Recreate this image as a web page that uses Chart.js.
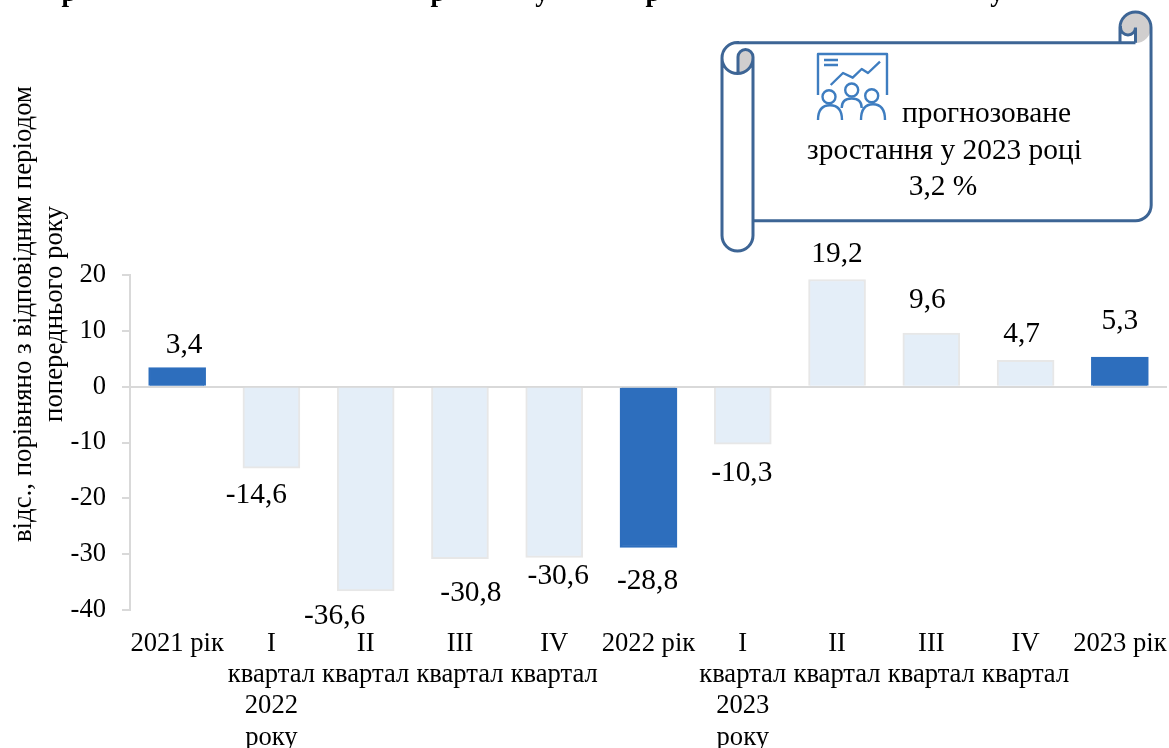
<!DOCTYPE html>
<html>
<head>
<meta charset="utf-8">
<script src="https://cdn.jsdelivr.net/npm/chart.js@4"></script>
<style>
    html, body { margin: 0; padding: 0; background: #fff; }
    canvas { display: block; }
</style>
</head>
<body>
<canvas id="growthChart" width="1169" height="748"></canvas>
<script>
const categories = [
    "2021 рік",
    ["I", "квартал", "2022", "року"],
    ["II", "квартал"],
    ["III", "квартал"],
    ["IV", "квартал"],
    "2022 рік",
    ["I", "квартал", "2023", "року"],
    ["II", "квартал"],
    ["III", "квартал"],
    ["IV", "квартал"],
    "2023 рік"
];
const values = [3.4, -14.6, -36.6, -30.8, -30.6, -28.8, -10.3, 19.2, 9.6, 4.7, 5.3];
const isYear = [true, false, false, false, false, true, false, false, false, false, true];
const labelShiftX = [7, -15, -31, 11, 4, -1, -1, 0, -4, -4, 0];
const labelShiftY = [-22, 27, 25, 35, 19, 34, 29, -25, -33, -26, -36];
const axisTitle = ["відс., порівняно з відповідним періодом", "попереднього року"];
const calloutLines = ["прогнозоване", "зростання у 2023 році", "3,2 %"];

// the title is cut off by the top edge, only these descenders are legible
const titleLetters = ["р", "р", "у", "р", "у"];
const titleLetterX = [69, 438, 542, 653, 997];

const SERIF = "'Liberation Serif', serif";
const TICK_SIZE = 26.6;
const LABEL_SIZE = 29.4;
const AXIS_GREY = "#D9D9D9";

function commaLabel(value) {
    return String(value).replace(".", ",");
}

const barLabels = {
    id: "barLabels",
    afterDatasetsDraw(chart) {
        const ctx = chart.ctx;
        ctx.save();
        ctx.font = `${LABEL_SIZE}px ${SERIF}`;
        ctx.fillStyle = "#000";
        ctx.textAlign = "center";
        ctx.textBaseline = "middle";
        chart.getDatasetMeta(0).data.forEach((bar, i) => {
            ctx.fillText(commaLabel(values[i]), bar.x + labelShiftX[i], bar.y + labelShiftY[i]);
        });
        ctx.restore();
    }
};

const sideText = {
    id: "sideText",
    afterDraw(chart) {
        const ctx = chart.ctx;
        ctx.save();
        ctx.fillStyle = "#000";
        ctx.textBaseline = "middle";
        ctx.textAlign = "center";
        ctx.font = `26.8px ${SERIF}`;
        axisTitle.forEach((line, i) => {
            ctx.save();
            ctx.translate(24 + i * 31, 314);
            ctx.rotate(-Math.PI / 2);
            ctx.fillText(line, 0, 0);
            ctx.restore();
        });
        ctx.font = `bold 27px ${SERIF}`;
        ctx.textBaseline = "alphabetic";
        titleLetters.forEach((letter, i) => ctx.fillText(letter, titleLetterX[i], 1));
        ctx.restore();
    }
};

function drawScroll(ctx) {
    ctx.lineWidth = 3;
    ctx.strokeStyle = "#3D6595";
    ctx.fillStyle = "#D0CECE";

    // right curl
    ctx.beginPath();
    ctx.arc(1135.5, 27.5, 15.5, Math.PI, Math.PI / 2);
    ctx.lineTo(1135.5, 27.5);
    ctx.arc(1128, 27.5, 7.5, 0, Math.PI);
    ctx.closePath();
    ctx.fill();

    // left curl
    ctx.beginPath();
    ctx.moveTo(738, 73.5);
    ctx.lineTo(738, 57);
    ctx.arc(745.5, 57, 7.5, Math.PI, 0);
    ctx.arc(737.5, 58, 15.5, 0, Math.PI / 2);
    ctx.closePath();
    ctx.fill();

    ctx.beginPath();
    // body outline
    ctx.moveTo(753, 220.7);
    ctx.lineTo(1135.5, 220.7);
    ctx.arc(1135.5, 205, 15.7, Math.PI / 2, 0, true);
    ctx.lineTo(1151, 27.5);
    ctx.arc(1135.5, 27.5, 15.5, 0, Math.PI, true);
    ctx.lineTo(1120, 42.7);
    ctx.moveTo(1120, 27.5);
    ctx.arc(1128, 27.5, 7.5, Math.PI, 0, true);
    ctx.lineTo(1135.5, 42.7);
    ctx.moveTo(1135.5, 42.7);
    ctx.lineTo(737.5, 42.7);
    ctx.arc(737.5, 58, 15.5, -Math.PI / 2, Math.PI, true);
    ctx.lineTo(722, 235.5);
    ctx.arc(737.5, 235.5, 15.5, Math.PI, 0, true);
    ctx.lineTo(753, 57);
    ctx.arc(745.5, 57, 7.5, 0, Math.PI, true);
    ctx.lineTo(738, 73.5);
    ctx.moveTo(722, 58);
    ctx.arc(737.5, 58, 15.5, Math.PI, 0, true);
    ctx.stroke();
}

function drawIcon(ctx) {
    ctx.lineWidth = 2.4;
    ctx.strokeStyle = "#3E7DC0";
    ctx.lineJoin = "round";
    ctx.beginPath();
    ctx.moveTo(818, 95);
    ctx.lineTo(818, 54);
    ctx.lineTo(887, 54);
    ctx.lineTo(887, 95);
    ctx.moveTo(824, 60);
    ctx.lineTo(838, 60);
    ctx.moveTo(824, 65);
    ctx.lineTo(838, 65);
    ctx.moveTo(830.7, 85);
    ctx.lineTo(843, 73);
    ctx.lineTo(852.7, 77.7);
    ctx.lineTo(861.7, 69);
    ctx.lineTo(868, 73);
    ctx.lineTo(880, 61.7);
    ctx.stroke();
    [[829, 96.7, 120, 830], [851.7, 90, 108, 851.7], [871.7, 95.7, 120, 873]].forEach(([hx, hy, foot, bx]) => {
        ctx.beginPath();
        ctx.arc(hx, hy, 6.5, 0, Math.PI * 2);
        ctx.stroke();
        ctx.beginPath();
        const half = foot === 108 ? 10 : 12;
        ctx.moveTo(bx - half, foot);
        ctx.quadraticCurveTo(bx - half, hy + 8.5, bx, hy + 8.5);
        ctx.quadraticCurveTo(bx + half, hy + 8.5, bx + half, foot);
        ctx.stroke();
    });
}

const callout = {
    id: "callout",
    afterDraw(chart) {
        const ctx = chart.ctx;
        ctx.save();
        drawScroll(ctx);
        drawIcon(ctx);
        ctx.font = `${LABEL_SIZE}px ${SERIF}`;
        ctx.fillStyle = "#000";
        ctx.textBaseline = "middle";
        ctx.textAlign = "center";
        ctx.fillText(calloutLines[0], 986.5, 114);
        ctx.fillText(calloutLines[1], 944.5, 151);
        ctx.fillText(calloutLines[2], 943, 187);
        ctx.restore();
    }
};

new Chart(document.getElementById("growthChart"), {
    type: "bar",
    data: {
        labels: categories,
        datasets: [{
            data: values,
            backgroundColor: isYear.map((year) => year ? "#2D6EBD" : "#E4EEF8"),
            borderColor: isYear.map((year) => year ? "#2D6EBD" : "#E7E7E7"),
            borderWidth: 2,
            barThickness: 57
        }]
    },
    options: {
        responsive: false,
        animation: false,
        layout: { padding: { top: 275, right: 2, left: 0, bottom: 0 } },
        plugins: {
            legend: { display: false },
            tooltip: { enabled: false }
        },
        scales: {
            x: {
                afterFit(scale) {
                    scale.height = 138;
                    scale.paddingLeft = 0;
                    scale.paddingRight = 0;
                },
                grid: { display: false },
                border: { display: false },
                ticks: {
                    autoSkip: false,
                    maxRotation: 0,
                    minRotation: 0,
                    padding: 10,
                    color: "#000",
                    font: { family: SERIF, size: TICK_SIZE, lineHeight: 1.18 }
                }
            },
            y: {
                min: -40,
                max: 20,
                afterFit(scale) { scale.width = 130; },
                grid: {
                    tickLength: 8,
                    lineWidth: 2,
                    color: (c) => c.tick.value === 0 ? AXIS_GREY : "transparent",
                    tickColor: AXIS_GREY
                },
                border: { color: AXIS_GREY, width: 2 },
                ticks: {
                    stepSize: 10,
                    padding: 16,
                    color: "#000",
                    font: { family: SERIF, size: TICK_SIZE }
                }
            }
        }
    },
    plugins: [barLabels, sideText, callout]
});
</script>
</body>
</html>
